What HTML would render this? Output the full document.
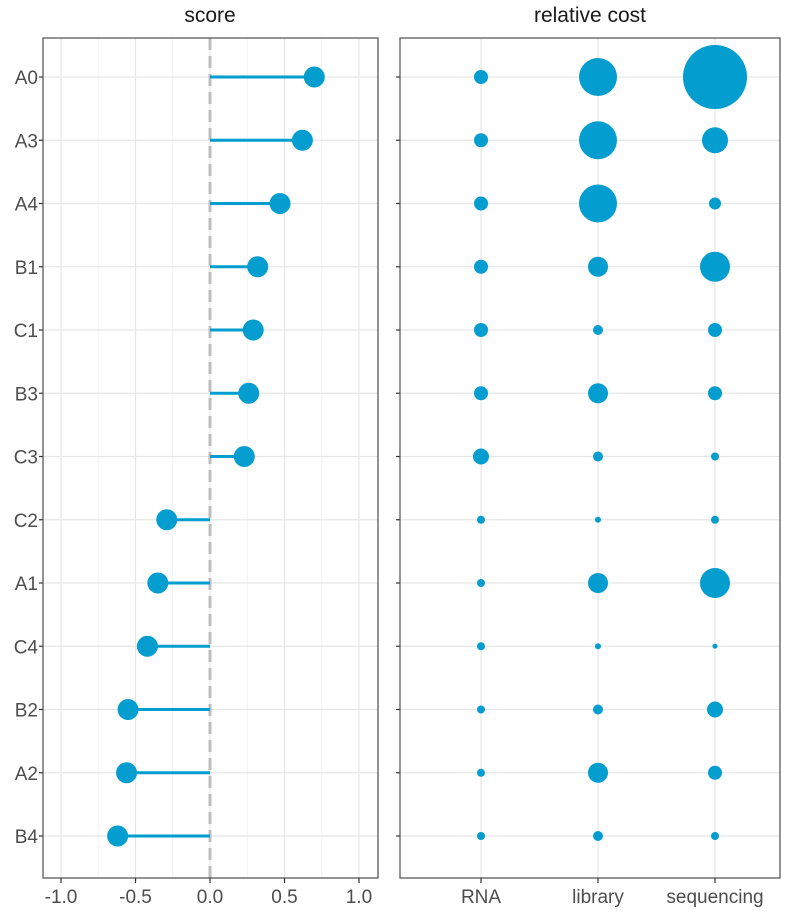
<!DOCTYPE html>
<html><head><meta charset="utf-8"><style>
body{margin:0;background:#fff;font-family:"Liberation Sans",sans-serif;}
</style></head><body>
<svg id="chart" width="786" height="911" xmlns="http://www.w3.org/2000/svg" font-family="Liberation Sans, sans-serif"></svg>
<script>
const categories=["A0","A3","A4","B1","C1","B3","C3","C2","A1","C4","B2","A2","B4"];
const scores=[0.70,0.62,0.47,0.32,0.29,0.26,0.23,-0.29,-0.35,-0.42,-0.55,-0.56,-0.62];
const costTypes=["RNA","library","sequencing"];
const costRNA=[7,7,7,7,7,7,8,4,4,4,4,4,4];
const costLibrary=[19,19,19,10,5,10,5,3,10,3,5,10,5];
const costSequencing=[32,13,6,15,7,7,4,4,15,2.5,8,7,4];
const xTicks=[-1.0,-0.5,0.0,0.5,1.0];
const xTickLabels=["-1.0","-0.5","0.0","0.5","1.0"];
const minorTicks=[-0.75,-0.25,0.25,0.75];

const svg=document.getElementById('chart');
const NS="http://www.w3.org/2000/svg";
const COL="#049dcf";
function el(t,a,p){const e=document.createElementNS(NS,t);for(const k in a)e.setAttribute(k,a[k]);(p||svg).appendChild(e);return e;}
const panelTop=38,panelBot=878,L1=43,R1=378,L2=400,R2=780;
const y=i=>77+i*63.25;
const x=v=>210+v*149;
const xc=j=>481+j*117;

let g;
for(const v of minorTicks){g=el('line',{x1:x(v),x2:x(v),y1:panelTop,y2:panelBot,stroke:'#f2f2f2','stroke-width':1});

}
for(const v of xTicks){g=el('line',{x1:x(v),x2:x(v),y1:panelTop,y2:panelBot,stroke:'#e6e6e6','stroke-width':1.2});

}
categories.forEach((c,i)=>{
 for(const [a,b] of [[L1,R1],[L2,R2]]){g=el('line',{x1:a,x2:b,y1:y(i),y2:y(i),stroke:'#e6e6e6','stroke-width':1.2});
 
 }
});
costTypes.forEach((c,j)=>{g=el('line',{x1:xc(j),x2:xc(j),y1:panelTop,y2:panelBot,stroke:'#e6e6e6','stroke-width':1.2});

});

g=el('line',{x1:x(0),x2:x(0),y1:panelTop,y2:panelBot,stroke:'#bdbdbd','stroke-width':3,'stroke-dasharray':'12,6'});



categories.forEach((c,i)=>{
 const s=el('line',{x1:x(0),x2:x(scores[i]),y1:y(i),y2:y(i),stroke:COL,'stroke-width':3});
 
 
 const d=el('circle',{cx:x(scores[i]),cy:y(i),r:10.5,fill:COL});
 
 
 const t=el('text',{x:38,y:y(i)+7,'text-anchor':'end','font-size':19,fill:'#4d4d4d'});t.textContent=c;
 
 
 for(const xx of [39,396]){const tk=el('line',{x1:xx,x2:xx+4,y1:y(i),y2:y(i),stroke:'#333','stroke-width':1.2});
 
 }
});

const series=[costRNA,costLibrary,costSequencing];
series.forEach((arr,j)=>arr.forEach((r,i)=>{
 const b=el('circle',{cx:xc(j),cy:y(i),r:r,fill:COL});
 
 
}));

for(const [a,b,n] of [[L1,R1,'score-panel'],[L2,R2,'cost-panel']]){
 const r=el('rect',{x:a,y:panelTop,width:b-a,height:panelBot-panelTop,fill:'none',stroke:'#4d4d4d','stroke-width':1.2});
 
 }

xTicks.forEach((v,k)=>{
 const tk=el('line',{x1:x(v),x2:x(v),y1:panelBot,y2:panelBot+5,stroke:'#333','stroke-width':1.2});
 
 
 const t=el('text',{x:x(v),y:panelBot+25,'text-anchor':'middle','font-size':19,fill:'#4d4d4d'});t.textContent=xTickLabels[k];
 
 
});
costTypes.forEach((c,j)=>{
 const tk=el('line',{x1:xc(j),x2:xc(j),y1:panelBot,y2:panelBot+5,stroke:'#333','stroke-width':1.2});
 
 
 const t=el('text',{x:xc(j),y:panelBot+25,'text-anchor':'middle','font-size':19,fill:'#4d4d4d'});t.textContent=c;
 
 
});

let t=el('text',{x:210,y:22,'text-anchor':'middle','font-size':21,fill:'#1a1a1a'});t.textContent='score';


t=el('text',{x:590,y:22,'text-anchor':'middle','font-size':21,fill:'#1a1a1a'});t.textContent='relative cost';


</script>
</body></html>
